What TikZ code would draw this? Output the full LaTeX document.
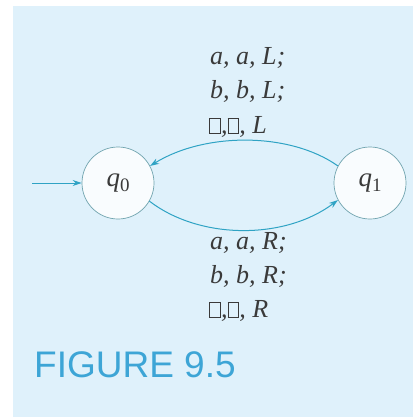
\documentclass[tikz,border=0pt]{standalone}
\usepackage{fontspec}
\setmainfont{Liberation Serif}
\newfontfamily\figfont{Liberation Sans}
\usetikzlibrary{arrows.meta}
\definecolor{bgblue}{HTML}{DFF1FB}
\definecolor{edgecol}{HTML}{2FA3C4}
\definecolor{circcol}{HTML}{6FA3AE}
\definecolor{txtcol}{HTML}{3A3A3A}
\definecolor{figcol}{HTML}{3DA5D6}
\newcommand\blanksq{{\setlength{\fboxsep}{0pt}\setlength{\fboxrule}{0.9pt}\fbox{\rule{0pt}{14pt}\hspace{10pt}}}}
\newcommand\stname[1]{\textit{q}\raisebox{-5pt}{\fontsize{19}{19}\selectfont\upshape #1}}
\begin{document}
\begin{tikzpicture}[x=1pt,y=-1pt,
  state/.style={circle, draw=circcol, line width=0.7pt, fill=white!80!bgblue,
    minimum size=72pt, inner sep=0pt, font=\fontsize{27}{28}\selectfont, text=txtcol},
  trans/.style={draw=edgecol, line width=1pt, -{Stealth[length=9pt,width=6pt]}},
  lab/.style={anchor=base west, inner sep=0pt, font=\fontsize{26}{30}\selectfont\itshape, text=txtcol},
  figlab/.style={anchor=base west, inner sep=0pt, font=\figfont\fontsize{37}{40}\selectfont, text=figcol}]
\useasboundingbox (0,0) rectangle (413,420);
\fill[white] (0,0) rectangle (413,420);
\fill[bgblue] (13,6) rectangle (413,417);
\node[state] (q0) at (118,183) {\stname{0}};
\node[state] (q1) at (370,183) {\stname{1}};
\coordinate (start) at (32,183);
\draw[trans] (start) -- (q0);
\draw[trans] (q1.152) .. controls (290,132) and (205,132) .. (q0.28);
\draw[trans] (q0.-30) .. controls (200,240) and (285,240) .. (q1.-152);
\node[lab] (t1) at (210,64) {a, a, L;};
\node[lab] (t2) at (210,98) {b, b, L;};
\node[lab] (t3) at (209,133) {\blanksq,\blanksq, L};
\node[lab] (b1) at (210,249) {a, a, R;};
\node[lab] (b2) at (210,283) {b, b, R;};
\node[lab] (b3) at (209,317) {\blanksq,\blanksq, R};
\node[figlab] (fig) at (34,377) {FIGURE 9.5};
\end{tikzpicture}
\end{document}
